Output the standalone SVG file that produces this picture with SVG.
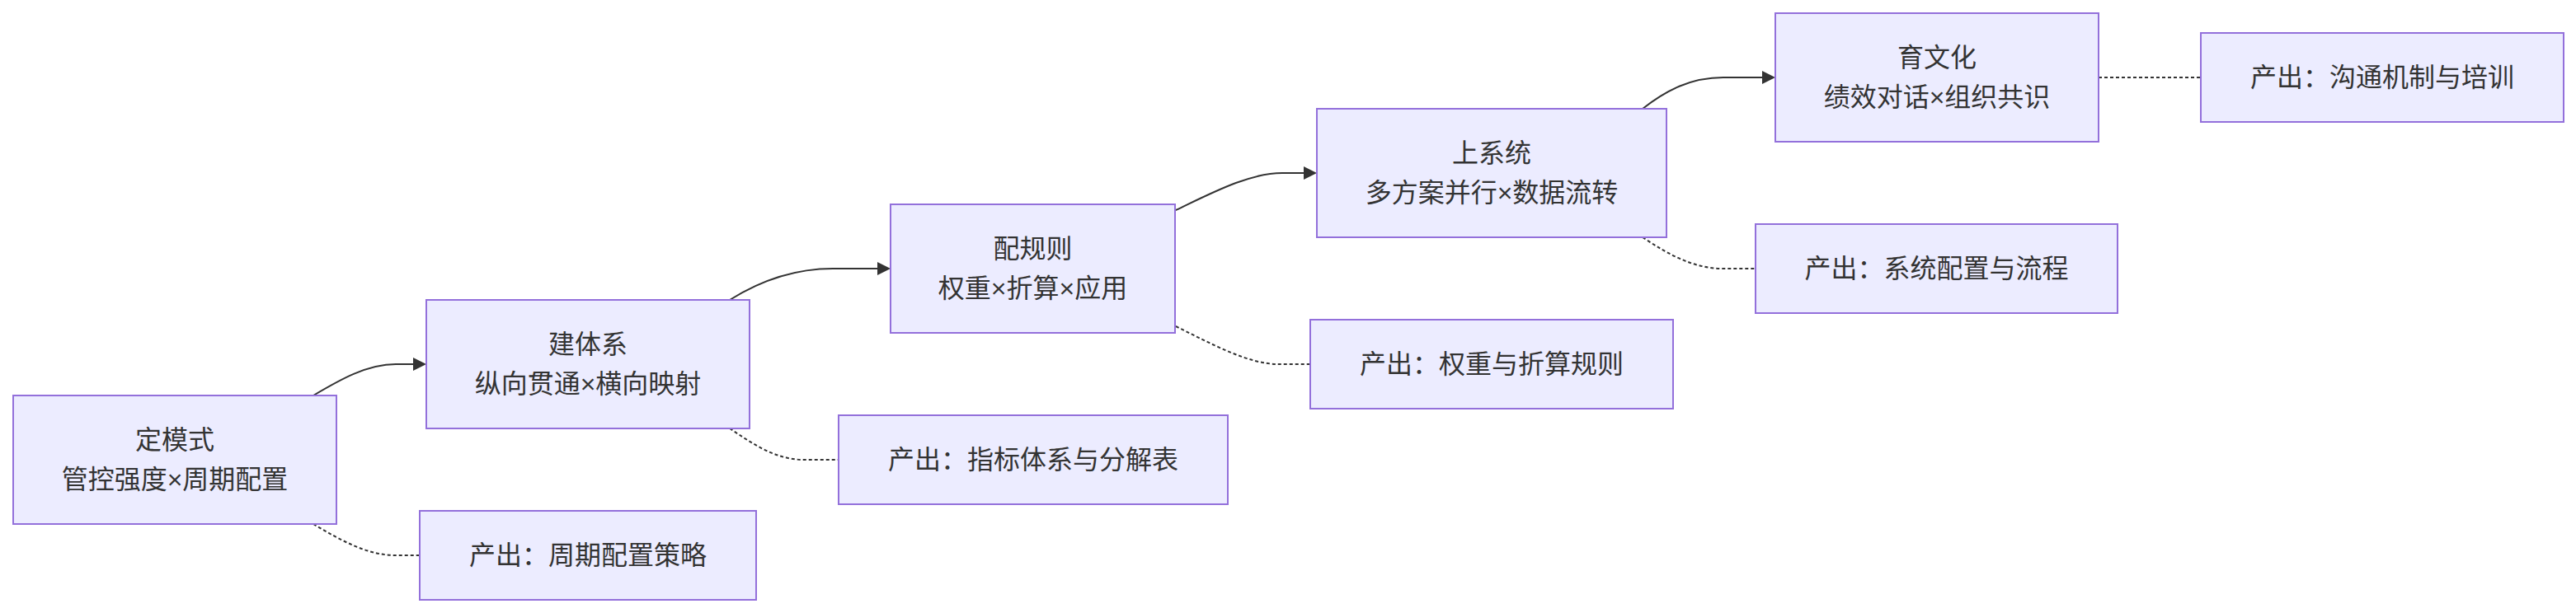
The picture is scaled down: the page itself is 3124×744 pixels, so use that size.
<svg xmlns="http://www.w3.org/2000/svg" width="3124" height="744" viewBox="0 0 3124 744">
<style>
.node rect{fill:#ECECFF;stroke:#9370DB;stroke-width:2}
.node text{font-family:"Liberation Sans","Noto Sans CJK SC",sans-serif;font-size:32px;fill:#333333;text-anchor:middle;dominant-baseline:central}
.edge{fill:none;stroke:#333333;stroke-width:2}
.solid{marker-end:url(#arrow)}
.dotted{stroke-dasharray:4 3}
</style>
<defs>
<marker id="arrow" viewBox="0 0 10 10" refX="0" refY="5" markerWidth="16" markerHeight="16" markerUnits="userSpaceOnUse" orient="auto">
<path d="M0,0 L10,5 L0,10 z" fill="#333333"/>
</marker>
</defs>
<g id="connectors">
<path class="edge solid" d="M380,480 C412,461 445,442 480,442 L501,442"/>
<path class="edge solid" d="M885,364 C920,342 960,326 1010,326 L1064,326"/>
<path class="edge solid" d="M1426,255 C1470,234 1515,210 1555,210 L1581,210"/>
<path class="edge solid" d="M1992,132 C2020,110 2050,94 2090,94 L2137,94"/>
<path class="edge dotted" d="M380,636 C412,655 445,674 480,674 L509,674"/>
<path class="edge dotted" d="M885,520 C912,538 940,558 975,558 L1017,558"/>
<path class="edge dotted" d="M1426,396 C1470,418 1515,442 1550,442 L1589,442"/>
<path class="edge dotted" d="M1992,288 C2025,310 2055,326 2090,326 L2129,326"/>
<path class="edge dotted" d="M2545,94 L2669,94"/>
</g>
<g id="n1" class="node"><rect x="16" y="480" width="392" height="156"/><text x="212" y="534">定模式</text><text x="212" y="582">管控强度×周期配置</text></g>
<g id="n2" class="node"><rect x="517" y="364" width="392" height="156"/><text x="713" y="418">建体系</text><text x="713" y="466">纵向贯通×横向映射</text></g>
<g id="n3" class="node"><rect x="1080" y="248" width="345" height="156"/><text x="1252.5" y="302">配规则</text><text x="1252.5" y="350">权重×折算×应用</text></g>
<g id="n4" class="node"><rect x="1597" y="132" width="424" height="156"/><text x="1809" y="186">上系统</text><text x="1809" y="234">多方案并行×数据流转</text></g>
<g id="n5" class="node"><rect x="2153" y="16" width="392" height="156"/><text x="2349" y="70">育文化</text><text x="2349" y="118">绩效对话×组织共识</text></g>
<g id="o1" class="node"><rect x="509" y="620" width="408" height="108"/><text x="713" y="674">产出：周期配置策略</text></g>
<g id="o2" class="node"><rect x="1017" y="504" width="472" height="108"/><text x="1253" y="558">产出：指标体系与分解表</text></g>
<g id="o3" class="node"><rect x="1589" y="388" width="440" height="108"/><text x="1809" y="442">产出：权重与折算规则</text></g>
<g id="o4" class="node"><rect x="2129" y="272" width="439" height="108"/><text x="2348.5" y="326">产出：系统配置与流程</text></g>
<g id="o5" class="node"><rect x="2669" y="40" width="440" height="108"/><text x="2889" y="94">产出：沟通机制与培训</text></g>
</svg>
